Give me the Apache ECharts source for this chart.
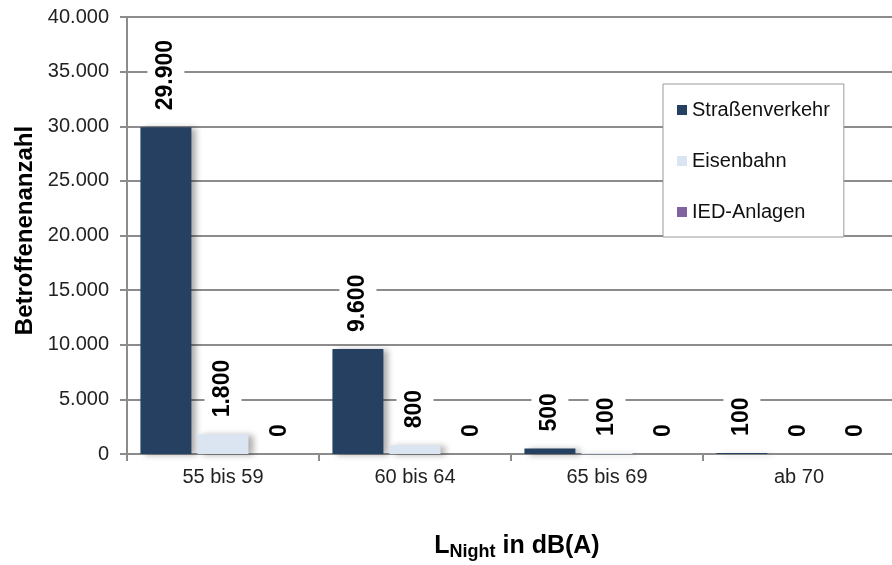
<!DOCTYPE html>
<html>
<head>
<meta charset="utf-8">
<script src="https://cdn.jsdelivr.net/npm/echarts@6/dist/echarts.min.js"></script>
<style>
html,body{margin:0;padding:0;background:#fff;}
#chart{width:892px;height:565px;}
</style>
</head>
<body>
<div id="chart"></div>
<script>
const categories = ['55 bis 59', '60 bis 64', '65 bis 69', 'ab 70'];
const seriesNames = ['Straßenverkehr', 'Eisenbahn', 'IED-Anlagen'];
const strassenverkehr = [29900, 9600, 500, 100];
const eisenbahn = [1800, 800, 100, 0];
const iedAnlagen = [0, 0, 0, 0];
const yTicks = { min: 0, max: 40000, interval: 5000 };

const FONT = '"Liberation Sans", Arial, sans-serif';
function de(v) {
  return String(Math.round(v)).replace(/\B(?=(\d{3})+(?!\d))/g, '.');
}
const colors = ['#254061', '#dbe5f1', '#8064a2'];

const labelCfg = {
  show: true,
  position: 'top',
  rotate: 90,
  align: 'left',
  verticalAlign: 'middle',
  distance: 15,
  fontFamily: FONT,
  fontSize: 23,
  fontWeight: 'bold',
  color: '#000',
  backgroundColor: '#fff',
  padding: [10, 4, 4, 2],
  formatter: p => de(p.value)
};

function barSeries(name, data, color) {
  return {
    name: name,
    type: 'bar',
    data: data,
    barGap: '12%',
    barCategoryGap: '14%',
    itemStyle: {
      color: color,
      shadowColor: 'rgba(0,0,0,0.32)',
      shadowBlur: 6,
      shadowOffsetX: 5,
      shadowOffsetY: 1
    },
    label: labelCfg,
    emphasis: { disabled: true }
  };
}

const chart = echarts.init(document.getElementById('chart'), null, { renderer: 'canvas' });
chart.setOption({
  animation: false,
  backgroundColor: '#fff',
  color: colors,
  textStyle: { fontFamily: FONT },
  grid: { left: 127, top: 17, width: 768, height: 437, containLabel: false, outerBoundsMode: 'none' },
  legend: {
    orient: 'vertical',
    left: 663,
    top: 84,
    padding: [16, 14, 15, 14],
    itemWidth: 10,
    itemHeight: 10,
    itemGap: 31,
    icon: 'rect',
    backgroundColor: '#fff',
    borderColor: '#9a9a9a',
    borderWidth: 1,
    textStyle: { fontFamily: FONT, fontSize: 20, color: '#111' },
    data: seriesNames
  },
  xAxis: {
    type: 'category',
    data: categories,
    axisLine: { lineStyle: { color: '#8c8c8c', width: 2 } },
    axisTick: { show: true, length: 7, lineStyle: { color: '#8c8c8c', width: 2 } },
    axisLabel: { fontFamily: FONT, fontSize: 20, color: '#222', margin: 13 },
    name: '{m|L}{s|Night}{m| in dB(A)}',
    nameLocation: 'middle',
    nameGap: 77,
    nameTextStyle: {
      padding: [0, 0, 0, 12],
      rich: {
        m: { fontFamily: FONT, fontSize: 25, fontWeight: 'bold', color: '#000', lineHeight: 30 },
        s: { fontFamily: FONT, fontSize: 18, fontWeight: 'bold', color: '#000', lineHeight: 19, verticalAlign: 'bottom' }
      }
    }
  },
  yAxis: {
    type: 'value',
    min: yTicks.min,
    max: yTicks.max,
    interval: yTicks.interval,
    axisLine: { show: true, lineStyle: { color: '#8c8c8c', width: 2 } },
    axisTick: { show: true, length: 7, lineStyle: { color: '#8c8c8c', width: 2 } },
    splitLine: { show: true, lineStyle: { color: '#8c8c8c', width: 2 } },
    axisLabel: { fontFamily: FONT, fontSize: 20, color: '#222', margin: 18, formatter: v => de(v) },
    name: 'Betroffenenanzahl',
    nameLocation: 'middle',
    nameGap: 90,
    nameTextStyle: { fontFamily: FONT, fontSize: 24, fontWeight: 'bold', color: '#000', padding: [0, 0, 0, 10] }
  },
  series: [
    barSeries(seriesNames[0], strassenverkehr, colors[0]),
    barSeries(seriesNames[1], eisenbahn, colors[1]),
    barSeries(seriesNames[2], iedAnlagen, colors[2])
  ]
});
</script>
</body>
</html>
